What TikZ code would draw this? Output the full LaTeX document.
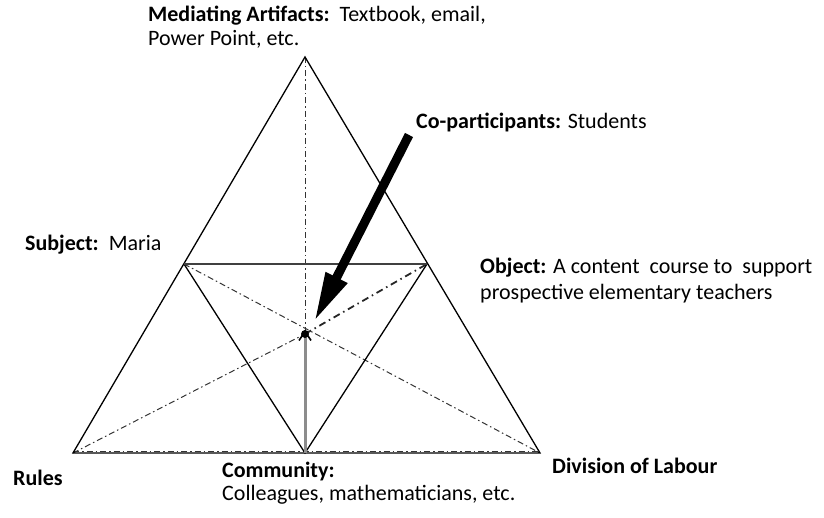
\documentclass[tikz,border=0pt]{standalone}
\usepackage{fontspec}
\setmainfont{Carlito}
\usetikzlibrary{arrows.meta}
\begin{document}
\begin{tikzpicture}[x=1pt,y=-1pt,
  edge/.style={line width=1.3pt,line join=miter},
  midline/.style={line width=2.4pt,black!75},
  dashdot/.style={line width=1pt,black!80,dash pattern=on 6pt off 3pt on 1.5pt off 3pt},
  heavydash/.style={line width=1.8pt,black!85,dash pattern=on 7pt off 4pt on 1.5pt off 4pt},
  lbl/.style={inner sep=0pt,anchor=base west,font=\fontsize{22}{26}\selectfont},
  blockarrow/.style={line width=9pt,-{Triangle[length=50pt,width=22pt]}},
  grayarrow/.style={line width=3pt,black!45,-{Straight Barb[length=9pt,width=12pt,line width=1.6pt,black]}}
]
\useasboundingbox (0,0) rectangle (824,518);

% corners of the activity triangle
\coordinate (ma) at (305,57);
\coordinate (rules) at (73,453);
\coordinate (div) at (540,453);
\coordinate (subj) at (184,264);
\coordinate (obj) at (427,264);
\coordinate (comm) at (305,453);
\coordinate (ctr) at (305,334);
\coordinate (cop) at (409,135);

% dash-dotted sight lines through the centre
\draw[dashdot] (ma) -- (ctr);
\draw[dashdot] (subj) -- (div);
\draw[dashdot] (rules) -- (ctr);
\draw[heavydash] (ctr) -- (obj);
\draw[dashdot] ([yshift=2pt]rules) -- ([yshift=2pt]div);

% outer and inner triangles
\draw[edge] (rules) -- (ma) -- (div) -- cycle;
\draw[edge] (subj) -- (comm) -- (obj);
\draw[midline] (subj) -- (obj);

% community arrow and centre point
\draw[grayarrow] (comm) -- ([yshift=4pt]ctr);
\fill (ctr) circle (4pt);

% co-participants arrow
\draw[blockarrow] (cop) -- (314,322);

% labels
\node[lbl] (lma1) at (148,22) {\textbf{Mediating Artifacts:}\ \ Textbook, email,};
\node[lbl] (lma2) at (148,46) {Power Point, etc.};
\node[lbl] (lcop) at (416,129) {\textbf{Co-participants:} Students};
\node[lbl] (lsubj) at (25,251) {\textbf{Subject:}\ \ Maria};
\node[lbl] (lobj1) at (480,274) {\textbf{Object:} A content\ \ course to\ \ support};
\node[lbl] (lobj2) at (480,300) {prospective elementary teachers};
\node[lbl] (lrules) at (13,485) {\textbf{Rules}};
\node[lbl] (lcomm1) at (222,477) {\textbf{Community:}};
\node[lbl] (lcomm2) at (222,500) {Colleagues, mathematicians, etc.};
\node[lbl] (ldiv) at (552,473) {\textbf{Division of Labour}};
\end{tikzpicture}
\end{document}
